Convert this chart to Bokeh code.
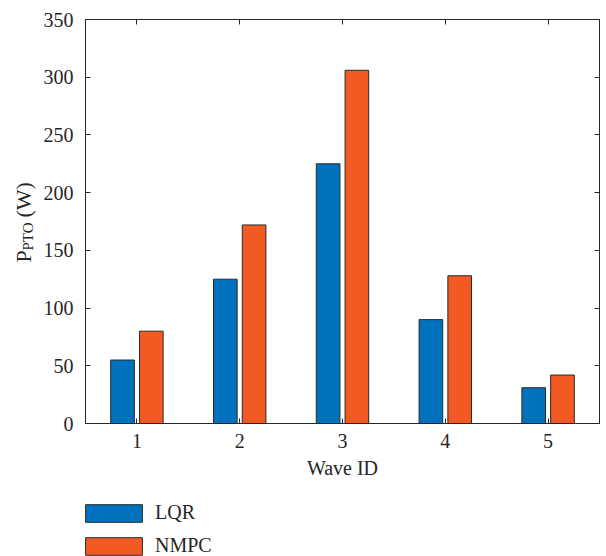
import math
from bokeh.plotting import figure
from bokeh.layouts import row, column
from bokeh.models import (ColumnDataSource, LinearAxis, FixedTicker, Label, Legend, LegendItem,
                          Range1d, CustomJSTickFormatter)
from bokeh.transform import dodge
from bokeh.embed import file_html
from bokeh.resources import INLINE

wave_ids = [1, 2, 3, 4, 5]
lqr = [55, 125, 225, 90, 31]
nmpc = [80, 172, 306, 128, 42]
y_ticks = [0, 50, 100, 150, 200, 250, 300, 350]
series_names = ["LQR", "NMPC"]

FONT = "Liberation Serif"
TXT = "#262626"
BLUE = "#0072BD"
ORANGE = "#F15A22"
EDGE = "#2a2a2a"

src = ColumnDataSource(data=dict(x=wave_ids, lqr=lqr, nmpc=nmpc))

# ---- main chart ----
p = figure(width=566, height=490, frame_width=514, frame_height=404,
           output_backend="svg", toolbar_location=None,
           x_range=Range1d(0.5, 5.5), y_range=Range1d(0, 350),
           min_border_left=45, min_border_right=7, min_border_top=19, min_border_bottom=67)
p.background_fill_color = "white"
p.border_fill_color = "white"
p.grid.visible = False
p.outline_line_color = TXT
p.outline_line_width = 1

r1 = p.vbar(x=dodge("x", -0.14, range=p.x_range), top="lqr", width=0.23, source=src,
            fill_color=BLUE, line_color=EDGE, line_width=1)
r2 = p.vbar(x=dodge("x", 0.14, range=p.x_range), top="nmpc", width=0.23, source=src,
            fill_color=ORANGE, line_color=EDGE, line_width=1)

blank = CustomJSTickFormatter(code="return ''")

def style_axis(ax, ticks, show_labels=True):
    ax.ticker = FixedTicker(ticks=ticks)
    ax.axis_line_color = TXT
    ax.major_tick_line_color = TXT
    ax.minor_tick_line_color = None
    ax.major_tick_in = 5
    ax.major_tick_out = 0
    ax.major_label_text_font = FONT
    ax.major_label_text_color = TXT
    ax.major_label_text_font_size = "20px"
    if not show_labels:
        ax.formatter = blank
        ax.major_label_standoff = 0

style_axis(p.xaxis[0], wave_ids)
style_axis(p.yaxis[0], y_ticks)
p.xaxis[0].major_label_standoff = 10
p.yaxis[0].major_label_standoff = 12
p.xaxis[0].axis_label = "Wave ID"
p.xaxis[0].axis_label_text_font = FONT
p.xaxis[0].axis_label_text_font_size = "20px"
p.xaxis[0].axis_label_text_font_style = "normal"
p.xaxis[0].axis_label_text_color = TXT
p.xaxis[0].axis_label_standoff = 6

top_ax = LinearAxis()
style_axis(top_ax, wave_ids, show_labels=False)
p.add_layout(top_ax, "above")
right_ax = LinearAxis()
style_axis(right_ax, y_ticks, show_labels=False)
p.add_layout(right_ax, "right")

# ---- y-axis title: P_PTO (W) (frame of this figure is aligned with the main frame) ----
yfig = figure(width=40, height=490, output_backend="svg", toolbar_location=None,
              x_axis_type=None, y_axis_type=None, min_border=0,
              x_range=Range1d(0, 1), y_range=Range1d(0, 1))
yfig.outline_line_color = None
yfig.grid.visible = False
common = dict(x_units="screen", y_units="screen", angle=math.pi / 2,
              text_font=FONT, text_color=TXT, text_align="left", text_baseline="alphabetic")
yfig.add_layout(Label(x=23, y=161, text="P", text_font_size="22px", **common))
yfig.add_layout(Label(x=27, y=173, text="PTO", text_font_size="15px", **common))
yfig.add_layout(Label(x=23, y=206, text="(W)", text_font_size="22px", **common))

# ---- legend below ----
lfig = figure(width=606, height=66, output_backend="svg", toolbar_location=None,
              x_axis_type=None, y_axis_type=None, min_border=0,
              x_range=Range1d(0, 1), y_range=Range1d(0, 1))
lfig.outline_line_color = None
lfig.grid.visible = False
d1 = lfig.vbar(x=dodge("x", -0.14, range=lfig.x_range), top="lqr", width=0.23, source=src,
               fill_color=BLUE, line_color=EDGE, line_width=1, visible=False)
d2 = lfig.vbar(x=dodge("x", 0.14, range=lfig.x_range), top="nmpc", width=0.23, source=src,
               fill_color=ORANGE, line_color=EDGE, line_width=1, visible=False)
legend = Legend(items=[LegendItem(label=series_names[0], renderers=[d1]),
                       LegendItem(label=series_names[1], renderers=[d2])],
                location=(78, -1), orientation="vertical",
                glyph_width=71, glyph_height=22, label_height=22, spacing=10,
                label_standoff=6, padding=0, margin=0,
                label_text_font=FONT, label_text_font_size="20px", label_text_color=TXT,
                border_line_color=None, background_fill_alpha=0,
                inactive_fill_alpha=0)
lfig.add_layout(legend, "center")

layout = column(row(yfig, p, spacing=0), lfig, spacing=0)

open("out.html", "w").write(file_html(layout, INLINE))
